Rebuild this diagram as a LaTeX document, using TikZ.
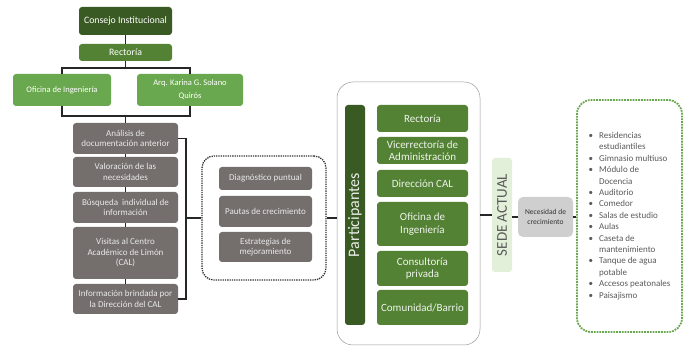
\documentclass[tikz,border=0pt]{standalone}
\usepackage{fontspec}
\setmainfont{Carlito}
\usepackage{xcolor}
\usepackage{tikz}
\usetikzlibrary{positioning}
\definecolor{darkgreen}{RGB}{58,90,36}
\definecolor{midgreen}{RGB}{84,130,53}
\definecolor{lightgreen}{RGB}{106,168,79}
\definecolor{palegreen}{RGB}{226,240,217}
\definecolor{stepgray}{RGB}{116,110,109}
\definecolor{needgray}{RGB}{208,207,207}
\definecolor{listgray}{RGB}{89,89,89}

\begin{document}
\begin{tikzpicture}[x=1pt, y=-1pt,
    orgbox/.style={rectangle, rounded corners=3pt, text=white, align=center, inner sep=1pt, font=\fontsize{9.8}{11}\selectfont},
    stepbox/.style={rectangle, fill=stepgray, rounded corners=3pt, text=white!85!stepgray, align=center, inner sep=1pt, font=\fontsize{9}{10.5}\selectfont},
    partbox/.style={rectangle, fill=midgreen, rounded corners=3pt, text=white!90!midgreen, align=center, inner sep=1pt, minimum width=91pt, font=\fontsize{11}{12.5}\selectfont},
    link/.style={line width=1.2pt, black!85}
  ]
    \useasboundingbox (0,0) rectangle (691,347);

    % Top of the chart
    \node[orgbox, fill=darkgreen, minimum width=93pt, minimum height=28pt] (consejo) at (125.5,21) {Consejo Institucional};
    \node[orgbox, fill=midgreen, minimum width=93pt, minimum height=17pt] (rectoria) at (125.5,52.5) {Rectoría};
    \node[orgbox, fill=lightgreen, minimum width=98pt, minimum height=32pt, font=\fontsize{8.5}{13}\selectfont] (oficina) at (62,90) {Oficina de Ingeniería};
    \node[orgbox, fill=lightgreen, minimum width=106pt, minimum height=32pt, font=\fontsize{8.5}{13}\selectfont] (arq) at (190,90) {Arq. Karina G. Solano\\Quirós};

    \coordinate (split) at (125.5,68);
    \coordinate (merge) at (125.5,116);
    \draw[link] (consejo) -- (rectoria);
    \draw[link] (rectoria) -- (split);
    \draw[link] (oficina.north) |- (split) -| (arq.north);
    \draw[link] (oficina.south) |- (merge) -| (arq.south);

    % Steps
    \node[stepbox, minimum width=105pt, minimum height=31pt] (analisis) at (125.5,138.5) {Análisis de\\documentación anterior};
    \node[stepbox, minimum width=105pt, minimum height=30pt] (valoracion) at (125.5,172) {Valoración de las\\necesidades};
    \node[stepbox, minimum width=105pt, minimum height=31pt] (busqueda) at (125.5,207.5) {Búsqueda\ \ individual de\\información};
    \node[stepbox, minimum width=105pt, minimum height=52pt] (visitas) at (125.5,253) {Visitas al Centro\\Académico de Limón\\(CAL)};
    \node[stepbox, minimum width=105pt, minimum height=30pt] (informacion) at (125.5,299) {Información brindada por\\la Dirección del CAL};

    \draw[link] (merge) -- (analisis);
    \foreach \a/\b in {analisis/valoracion, valoracion/busqueda, busqueda/visitas, visitas/informacion}
      \draw[line width=0.8pt, black!85] (\a) -- (\b);

    % Bracket
    \coordinate (bracket) at (186,218);
    \draw[link] (analisis.east) -| (bracket) |- (informacion.east);

    % Results
    \node[rectangle, draw=black!80, densely dotted, line width=1.3pt, rounded corners=12pt, minimum width=124pt, minimum height=124pt] (resultados) at (264,218) {};
    \node[stepbox, minimum width=93pt, minimum height=23pt] (diagnostico) at (265.5,178.5) {Diagnóstico puntual};
    \node[stepbox, minimum width=93pt, minimum height=31pt] (pautas) at (265.5,211.5) {Pautas de crecimiento};
    \node[stepbox, minimum width=93pt, minimum height=30pt] (estrategias) at (265.5,247) {Estrategias de\\mejoramiento};
    \draw[link] (bracket) -- (resultados.west);

    % Participants
    \node[rectangle, draw=black!40, line width=0.5pt, rounded corners=16pt, minimum width=143pt, minimum height=263pt] (grupo) at (408.5,213.5) {};
    \node[orgbox, fill=darkgreen, rotate=90, minimum width=220pt, minimum height=20pt, font=\fontsize{16}{18}\selectfont, text=white!90!darkgreen] (participantes) at (355,215) {Participantes};
    \node[partbox, minimum height=27pt] (p1) at (422.5,118.5) {Rectoría};
    \node[partbox, minimum height=27pt] (p2) at (422.5,150.5) {Vicerrectoría de\\Administración};
    \node[partbox, minimum height=27pt] (p3) at (422.5,183.5) {Dirección CAL};
    \node[partbox, minimum height=44pt] (p4) at (422.5,224) {Oficina de\\Ingeniería};
    \node[partbox, minimum height=35pt] (p5) at (422.5,268.5) {Consultoría\\privada};
    \node[partbox, minimum height=35pt] (p6) at (422.5,307.5) {Comunidad/Barrio};
    \draw[link] (resultados.east) -- (resultados.east -| grupo.west);

    % Current site
    \node[orgbox, fill=palegreen, rotate=90, minimum width=114pt, minimum height=20pt, font=\fontsize{15}{17}\selectfont, text=listgray] (sede) at (502,215) {SEDE ACTUAL};
    \node[rectangle, fill=needgray, rounded corners=5pt, minimum width=55pt, minimum height=40pt, align=center, inner sep=1pt, font=\fontsize{7.5}{10}\selectfont, text=black!80] (necesidad) at (545.5,217) {Necesidad de\\crecimiento};
    \draw[link] (sede.north) -- (sede.north -| grupo.east);
    \draw[link] (necesidad.west) -- (necesidad.west -| sede.south);

    % Works list
    \node[rectangle, draw=lightgreen, densely dotted, line width=1.8pt, rounded corners=14pt, minimum width=105pt, minimum height=232pt, text=listgray, font=\fontsize{9}{11.4}\selectfont] (obras) at (629.5,216) {%
      \begin{tabular}{@{}l@{\hspace{6pt}}l@{}}
        \textbullet & Residencias\\
                    & estudiantiles\\
        \textbullet & Gimnasio multiuso\\
        \textbullet & Módulo de\\
                    & Docencia\\
        \textbullet & Auditorio\\
        \textbullet & Comedor\\
        \textbullet & Salas de estudio\\
        \textbullet & Aulas\\
        \textbullet & Caseta de\\
                    & mantenimiento\\
        \textbullet & Tanque de agua\\
                    & potable\\
        \textbullet & Accesos peatonales\\
        \textbullet & Paisajismo
      \end{tabular}};
    \draw[link] (necesidad.east) -- (necesidad.east -| obras.west);
  \end{tikzpicture}
\end{document}
